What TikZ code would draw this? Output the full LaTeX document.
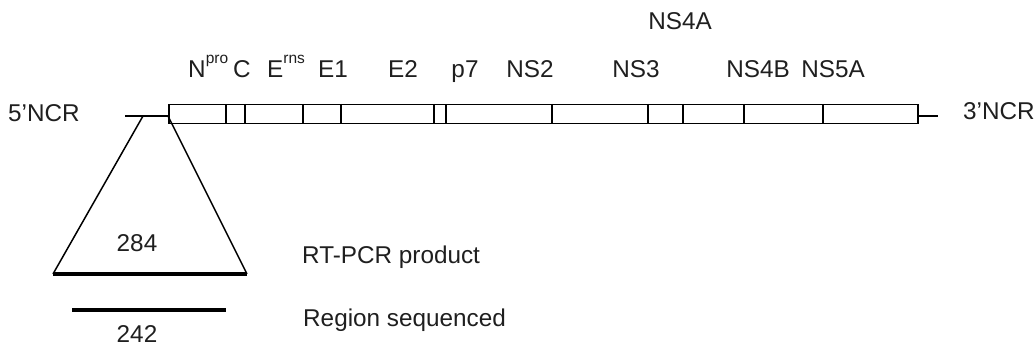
\documentclass[tikz,border=0pt]{standalone}
\usepackage{fontspec}
\setmainfont{Liberation Sans}
\begin{document}
\begin{tikzpicture}[x=1pt,y=-1pt,
  lbl/.style={inner sep=0pt, font=\fontsize{24.3}{24.3}\selectfont, text=black!88},
  gline/.style={line width=1.5pt, black},
  bar/.style={line width=3.5pt, black},
  genomebox/.style={draw, line width=1.5pt, inner sep=0pt, minimum width=749pt, minimum height=19pt, anchor=north west}
]
\newcommand{\supx}[1]{\raisebox{14.5pt}{\fontsize{15.5}{15.5}\selectfont #1}}
\useasboundingbox (0,0) rectangle (1034,347);

% genome box
\node[genomebox] (genome) at (168,104) {};
\foreach \x in {226,245,303,341,434,446,552,648,683,744,823}
  \draw[gline] (\x,104) -- (\x,123);

% UTR lines
\coordinate (u5) at (125,116);
\coordinate (apex) at (143,116);
\coordinate (gl) at (168,116);
\coordinate (gr) at (917,116);
\coordinate (u3) at (938,116);
\draw[gline] (u5) -- (gl);
\draw[gline] (gr) -- (u3);

% triangle
\coordinate (pl) at (53,274);
\coordinate (pr) at (247,274);
\draw[gline] (apex) -- (pl);
\draw[gline] (gl) -- (pr);
\draw[bar] (pl) -- (pr);

% region sequenced
\coordinate (rl) at (72,310);
\coordinate (rr) at (226,310);
\draw[bar] (rl) -- (rr);

% labels
\node[lbl, anchor=base west] (npro) at (188,78) {N\supx{pro}};
\node[lbl, anchor=base] (c) at (242,78) {C};
\node[lbl, anchor=base west] (erns) at (267,78) {E\supx{rns}};
\node[lbl, anchor=base] (e1) at (333,78) {E1};
\node[lbl, anchor=base] (e2) at (403,78) {E2};
\node[lbl, anchor=base] (p7) at (465,78) {p7};
\node[lbl, anchor=base] (ns2) at (530,78) {NS2};
\node[lbl, anchor=base] (ns3) at (636,78) {NS3};
\node[lbl, anchor=base] (ns4a) at (680,30) {NS4A};
\node[lbl, anchor=base] (ns4b) at (758,78) {NS4B};
\node[lbl, anchor=base] (ns5a) at (833,78) {NS5A};

\node[lbl, anchor=base west] (ncr5) at (8,122) {5'NCR};
\node[lbl, anchor=base west] (ncr3) at (963,120) {3'NCR};

\node[lbl, anchor=base] (n284) at (137,252) {284};
\node[lbl, anchor=base, text depth=0pt] (n242) at (137,343) {242};
\node[lbl, anchor=base west] (rtpcr) at (302,264) {RT-PCR product};
\node[lbl, anchor=base west] (regseq) at (303,327) {Region sequenced};
\end{tikzpicture}
\end{document}
